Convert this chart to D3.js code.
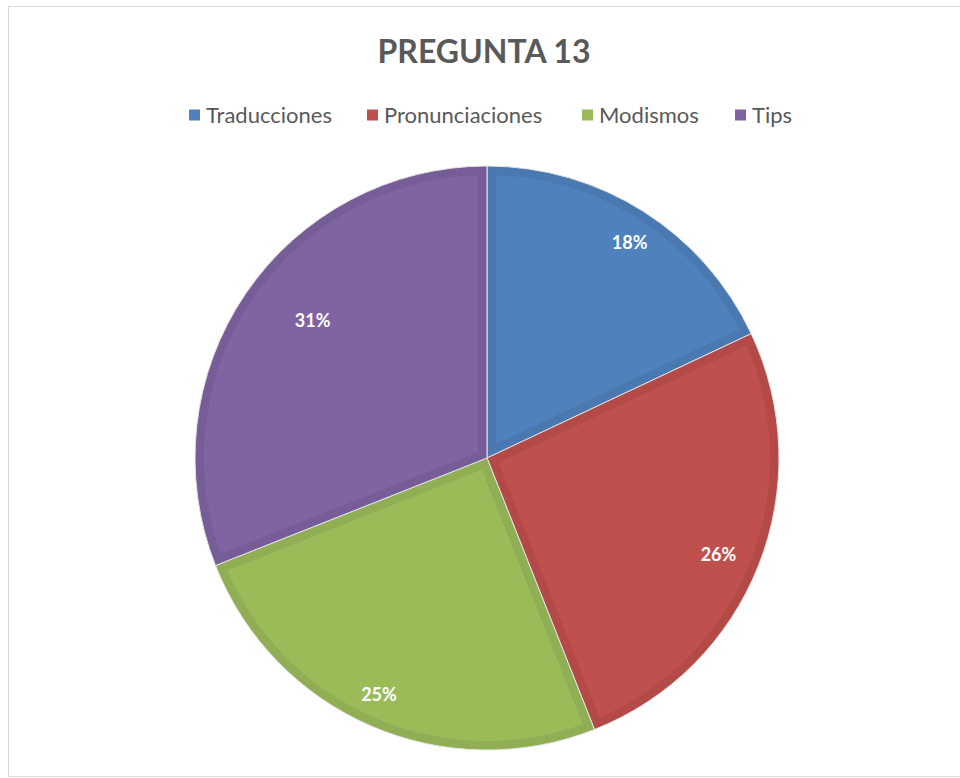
<!DOCTYPE html>
<html>
<head>
<meta charset="utf-8">
<script src="https://cdn.jsdelivr.net/npm/d3@7"></script>
<style>
  body { margin: 0; background: #fff; }
  svg { display: block; font-family: Lato, "Open Sans", sans-serif; }
</style>
</head>
<body>
<div id="chart"></div>
<script>
// data
const categories = ["Traducciones", "Pronunciaciones", "Modismos", "Tips"];
const values = [18, 26, 25, 31];
const colors = ["#4F81BD", "#C0504D", "#9BBB59", "#8064A2"];
const title = "PREGUNTA 13";

// layout
const width = 960, height = 778;
const cx = 487, cy = 458, radius = 292;
const labelRadius = [258, 251, 260, 222];   // excel "best fit" spots
const legendX = [189, 367, 582, 735];

const svg = d3.select("#chart").append("svg")
    .attr("width", width)
    .attr("height", height);

// chart frame
svg.append("rect")
    .attr("x", 8.5).attr("y", 6.5)
    .attr("width", 1000).attr("height", 770)
    .attr("fill", "none")
    .attr("stroke", "#d9d9d9")
    .attr("stroke-width", 1);

// title
svg.append("text")
    .attr("x", 484).attr("y", 63)
    .attr("text-anchor", "middle")
    .attr("font-size", 32)
    .attr("font-weight", "bold")
    .attr("fill", "#595959")
    .text(title);

// legend
const legend = svg.append("g").selectAll("g")
    .data(categories)
    .enter().append("g")
    .attr("transform", (d, i) => "translate(" + legendX[i] + ",115)");
legend.append("rect")
    .attr("x", 0).attr("y", -5.5)
    .attr("width", 11).attr("height", 11)
    .attr("fill", (d, i) => colors[i]);
legend.append("text")
    .attr("x", 17).attr("y", 8)
    .attr("font-size", 22)
    .attr("fill", "#595959")
    .text(d => d);

// pie
const pie = d3.pie().sort(null).value(d => d);
const arc = d3.arc().innerRadius(0).outerRadius(radius);
const arcs = pie(values);

const g = svg.append("g").attr("transform", "translate(" + cx + "," + cy + ")");
const defs = svg.append("defs");

defs.selectAll("clipPath")
    .data(arcs)
    .enter().append("clipPath")
    .attr("id", (d, i) => "slice" + i)
    .append("path")
    .attr("d", arc);

const slices = g.selectAll("g.slice")
    .data(arcs)
    .enter().append("g")
    .attr("class", "slice");

slices.append("path")
    .attr("d", arc)
    .attr("fill", (d, i) => colors[i]);

// darker inner rim on each slice
slices.append("path")
    .attr("d", arc)
    .attr("fill", "none")
    .attr("clip-path", (d, i) => "url(#slice" + i + ")")
    .attr("stroke", (d, i) => d3.color(colors[i]).darker(0.2))
    .attr("stroke-width", 18)
    .attr("stroke-linejoin", "miter");

// thin light seam between slices
slices.append("path")
    .attr("d", arc)
    .attr("fill", "none")
    .attr("stroke", "#e6e6e6")
    .attr("stroke-width", 1);

// percent labels
const total = d3.sum(values);
g.selectAll("text.lbl")
    .data(arcs)
    .enter().append("text")
    .attr("class", "lbl")
    .attr("transform", (d, i) => {
        const a = (d.startAngle + d.endAngle) / 2;
        const off = i == 3 ? 0.07 : 0.02;   // purple label sits a bit clockwise
        return "translate(" + (labelRadius[i] * Math.sin(a + off)) + "," + (-labelRadius[i] * Math.cos(a + off)) + ")";
    })
    .attr("text-anchor", "middle")
    .attr("dy", "0.35em")
    .attr("font-size", 18)
    .attr("font-weight", "bold")
    .attr("fill", "#fff")
    .text(d => Math.round(d.value / total * 100) + "%");
</script>
</body>
</html>
